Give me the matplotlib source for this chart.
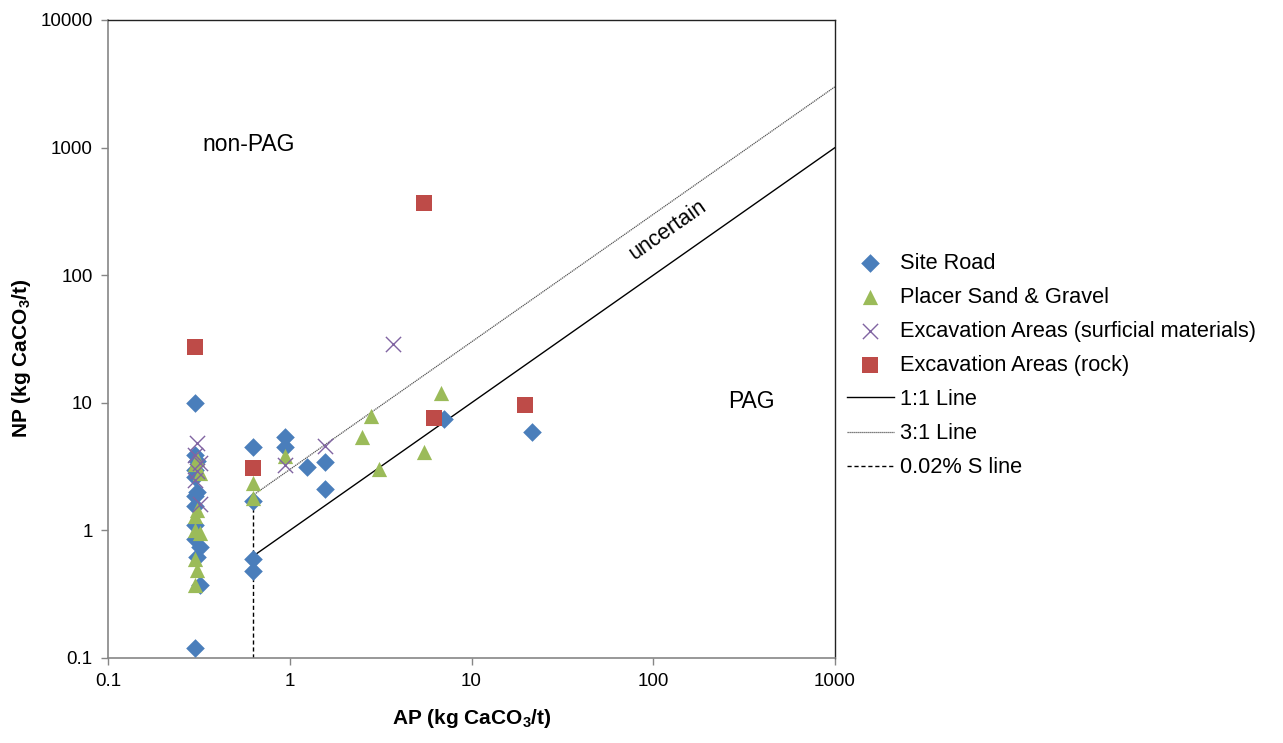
import matplotlib
matplotlib.use("Agg")
import matplotlib.pyplot as plt
from matplotlib.ticker import FixedLocator, FixedFormatter, NullLocator
import numpy as np

plt.rcParams['font.family'] = ['Liberation Sans', 'DejaVu Sans']
plt.rcParams['mathtext.fontset'] = 'custom'
plt.rcParams['mathtext.rm'] = 'Liberation Sans:bold'
plt.rcParams['mathtext.bf'] = 'Liberation Sans:bold'

# ---- data ----
site_road_ap = [0.3, 0.3, 0.31, 0.3, 0.3, 0.31, 0.3, 0.3, 0.3, 0.3, 0.32, 0.31, 0.32, 0.3,
                0.625, 0.625, 0.625, 0.625, 0.94, 0.94, 1.25, 1.56, 1.56, 7.1, 21.5]
site_road_np = [10.0, 3.9, 3.5, 3.0, 2.6, 2.0, 1.85, 1.55, 1.1, 0.85, 0.74, 0.62, 0.37, 0.12,
                4.5, 1.7, 0.6, 0.48, 5.4, 4.5, 3.15, 3.45, 2.1, 7.5, 5.9]

placer_ap = [0.31, 0.3, 0.32, 0.31, 0.3, 0.3, 0.32, 0.3, 0.31, 0.3,
             0.625, 0.625, 0.94, 2.5, 2.8, 3.1, 5.5, 6.8]
placer_np = [3.6, 3.3, 2.8, 1.45, 1.3, 1.0, 0.95, 0.6, 0.49, 0.37,
             2.35, 1.8, 3.8, 5.4, 7.9, 3.05, 4.1, 11.9]

surf_ap = [0.31, 0.3, 0.32, 0.31, 0.3, 0.32, 0.94, 1.56, 3.7]
surf_np = [4.8, 3.9, 3.35, 2.9, 2.5, 1.6, 3.25, 4.6, 28.7]

rock_ap = [0.3, 0.625, 5.5, 6.2, 19.7]
rock_np = [27.5, 3.1, 370.0, 7.6, 9.6]

line11_ap = [0.625, 1000]
line11_np = [0.625, 1000]
line31_ap = [0.625, 1000]
line31_np = [1.875, 3000]
sline_ap = [0.625, 0.625]
sline_np = [0.1, 1.875]

xticks = [0.1, 1, 10, 100, 1000]
xticklabels = ["0.1", "1", "10", "100", "1000"]
yticks = [0.1, 1, 10, 100, 1000, 10000]
yticklabels = ["0.1", "1", "10", "100", "1000", "10000"]

# ---- figure ----
fig = plt.figure(figsize=(12.83, 7.43), dpi=100)
ax = fig.add_axes([108/1283, 1-658/743, (835-108)/1283, (658-20)/743])
ax.set_xscale('log')
ax.set_yscale('log')
ax.set_xlim(0.1, 1000)
ax.set_ylim(0.1, 10000)

blue = '#4A7EBB'
green = '#9BBB59'
purple = '#8064A2'
red = '#BE4B48'

ax.scatter(site_road_ap, site_road_np, marker='D', s=90, color=blue, linewidths=0,
           label='Site Road', zorder=3)
ax.scatter(placer_ap, placer_np, marker='^', s=120, color=green, linewidths=0,
           label='Placer Sand & Gravel', zorder=3)
ax.scatter(surf_ap, surf_np, marker='x', s=120, color=purple, linewidths=1.0,
           label='Excavation Areas (surficial materials)', zorder=4)
ax.scatter(rock_ap, rock_np, marker='s', s=120, color=red, linewidths=0,
           label='Excavation Areas (rock)', zorder=3)
ax.plot(line11_ap, line11_np, color='black', lw=1.0, label='1:1 Line', zorder=2)
ax.plot(line31_ap, line31_np, color='#555555', lw=0.9, ls=(0, (1, 0.6)), label='3:1 Line', zorder=2)
ax.plot(sline_ap, sline_np, color='black', lw=1.0, ls=(0, (3, 2)), label='0.02% S line', zorder=2)

ax.xaxis.set_major_locator(FixedLocator(xticks))
ax.xaxis.set_major_formatter(FixedFormatter(xticklabels))
ax.yaxis.set_major_locator(FixedLocator(yticks))
ax.yaxis.set_major_formatter(FixedFormatter(yticklabels))
ax.xaxis.set_minor_locator(NullLocator())
ax.yaxis.set_minor_locator(NullLocator())
ax.tick_params(axis='both', which='major', direction='out', length=5, width=1,
               color='#868686', labelsize=13.5, pad=6)

for side in ['left', 'bottom']:
    ax.spines[side].set_color('#868686')
    ax.spines[side].set_linewidth(1.2)
for side in ['top', 'right']:
    ax.spines[side].set_color('#222222')
    ax.spines[side].set_linewidth(1.0)

ax.set_xlabel('AP (kg CaCO$_3$/t)', fontsize=15, fontweight='bold', labelpad=12)
ax.set_ylabel('NP (kg CaCO$_3$/t)', fontsize=15, fontweight='bold')
ax.yaxis.set_label_coords(-0.103, 0.47)

ax.text(0.33, 1050, 'non-PAG', fontsize=16.5, ha='left', va='center')
ax.text(258, 10.2, 'PAG', fontsize=16.5, ha='left', va='center')
ax.text(120, 226, 'uncertain', fontsize=15.7, ha='center', va='center', rotation=35)

leg = ax.legend(loc='upper left', bbox_to_anchor=(0.989, 0.666), frameon=False,
                fontsize=15.7, handlelength=2.15, handletextpad=0.28, labelspacing=0.6,
                borderaxespad=0.5)

fig.savefig('out.png', dpi=100)
